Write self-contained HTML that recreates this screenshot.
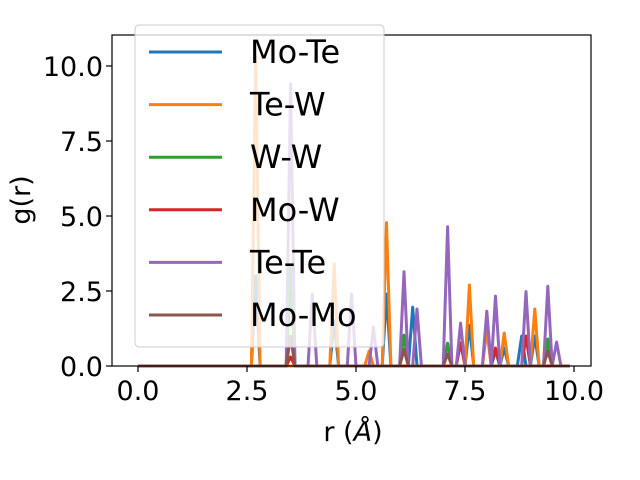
<!DOCTYPE html>
<html><head><meta charset="utf-8"><style>
html,body{margin:0;padding:0;background:#fff;}
svg{display:block;font-family:"DejaVu Sans","Liberation Sans",sans-serif;}
</style></head><body>
<svg id="chart" width="640" height="480">
<g id="marks"></g>
<rect x="112" y="35" width="479" height="331" fill="none" stroke="#000" stroke-width="1.2"/>
<g id="axes"></g>
<g id="legend"></g>
</svg>
<script>
const seriesNames = ["Mo-Te","Te-W","W-W","Mo-W","Te-Te","Mo-Mo"];
const seriesColors = ["#1f77b4","#ff7f0e","#2ca02c","#d62728","#9467bd","#8c564b"];
const xTicks = [0,2.5,5,7.5,10];
const xTickLabels = ["0.0","2.5","5.0","7.5","10.0"];
const yTicks = [0,2.5,5,7.5,10];
const yTickLabels = ["0.0","2.5","5.0","7.5","10.0"];
// peak positions (r) and heights g(r) per series
const moTeR = [2.7,3.5,4.5,5.7,6.3,7.6,8.2,8.4,8.8,9.1];
const moTeG = [3.0,3.0,1.5,2.4,1.96,1.36,0.5,0.6,1.0,1.0];
const teWR = [2.7,4.5,5.3,5.7,7.6,8.0,8.4,9.1];
const teWG = [10.3,3.4,0.5,4.78,2.7,1.2,1.1,1.9];
const wwR = [3.5,6.1,7.1,9.4];
const wwG = [3.3,1.03,0.76,0.9];
const moWR = [3.5,7.4,8.2,8.9];
const moWG = [0.3,0.77,0.6,1.0];
const teTeR = [3.5,4.0,4.9,5.4,6.1,6.4,7.1,7.4,8.0,8.2,8.9,9.4,9.6];
const teTeG = [9.4,2.4,2.4,1.3,3.14,1.9,4.64,1.43,1.83,2.33,2.48,2.66,0.8];
const moMoR = [3.5,6.1,7.1,9.4];
const moMoG = [1.0,0.55,0.4,0.5];
const seriesR = [moTeR,teWR,wwR,moWR,teTeR,moMoR];
const seriesG = [moTeG,teWG,wwG,moWG,teTeG,moMoG];
const rMin = 0, rMax = 9.9, halfWidth = 0.1;

const NS="http://www.w3.org/2000/svg";
function xs(v){return 138 + v*43.6;}
function ys(v){return 366 - v*30;}
function mk(tag,attrs,parent){const e=document.createElementNS(NS,tag);for(const k in attrs)e.setAttribute(k,attrs[k]);parent.appendChild(e);return e;}

const marks=document.getElementById('marks');
seriesNames.forEach((name,i)=>{
  const R=seriesR[i],G=seriesG[i];
  let pts=[[rMin,0]];
  R.forEach((r,j)=>{pts.push([r-halfWidth,0]);pts.push([r,G[j]]);pts.push([r+halfWidth,0]);});
  pts.push([rMax,0]);
  const d=pts.map((p,k)=>(k?'L':'M')+xs(p[0]).toFixed(1)+' '+ys(p[1]).toFixed(1)).join(' ');
  const p=mk('path',{d:d,fill:'none',stroke:seriesColors[i],'stroke-width':3,'stroke-linejoin':'round'},marks);
  
  
});

const axes=document.getElementById('axes');
xTicks.forEach((t,i)=>{
  const l=mk('line',{x1:xs(t),x2:xs(t),y1:366,y2:372,stroke:'#000','stroke-width':1.2},axes);
  
  
  const tx=mk('text',{x:xs(t),y:400,'font-size':27,'text-anchor':'middle'},axes);
  tx.textContent=xTickLabels[i];
  
  
});
yTicks.forEach((t,i)=>{
  const l=mk('line',{x1:106,x2:112,y1:ys(t),y2:ys(t),stroke:'#000','stroke-width':1.2},axes);
  
  
  const tx=mk('text',{x:103,y:ys(t)+10,'font-size':27,'text-anchor':'end'},axes);
  tx.textContent=yTickLabels[i];
  
  
});
const xl=mk('text',{x:353,y:441,'font-size':27,'text-anchor':'middle'},axes);
xl.innerHTML='r (<tspan font-style="italic">Å</tspan>)';


const yl=mk('text',{x:30,y:200,'font-size':27,'text-anchor':'middle',transform:'rotate(-90 30 200)'},axes);
yl.textContent='g(r)';



const lg=document.getElementById('legend');
const box=mk('rect',{x:135,y:25,width:249,height:322,rx:4,fill:'rgba(255,255,255,0.8)',stroke:'#ccc','stroke-width':1},lg);


seriesNames.forEach((name,i)=>{
  const y=52+i*52.6;
  const g=mk('g',{},lg);
  
  
  mk('line',{x1:149,x2:222,y1:y,y2:y,stroke:seriesColors[i],'stroke-width':3},g);
  const t=mk('text',{x:250,y:y+11,'font-size':32},g);
  t.textContent=name;
});
</script>
</body></html>
